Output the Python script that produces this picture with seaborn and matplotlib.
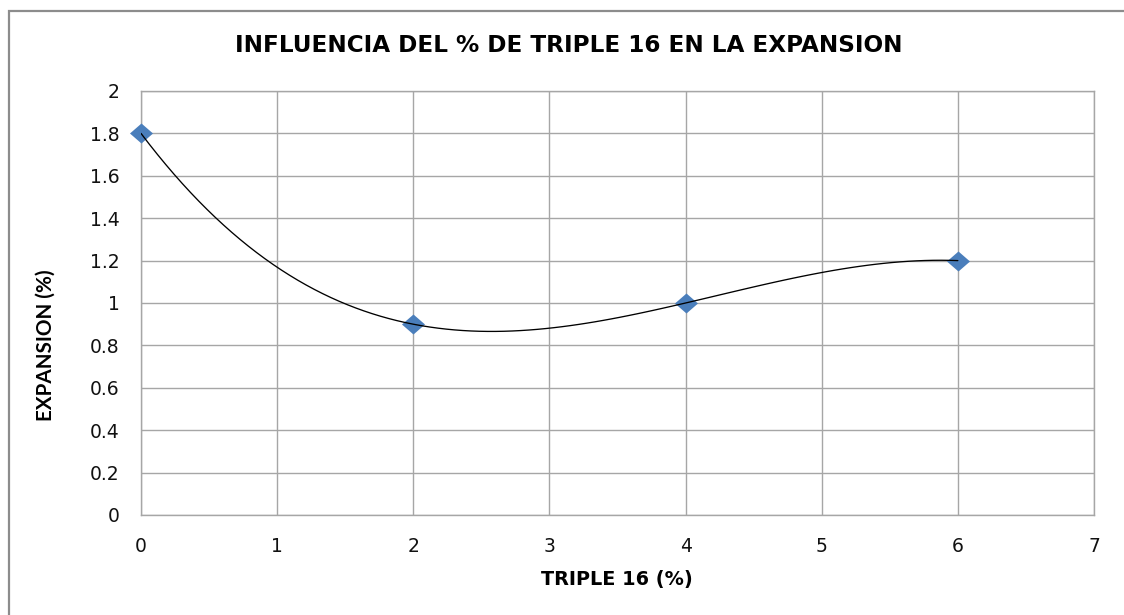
import numpy as np
import pandas as pd
import seaborn as sns
import matplotlib
matplotlib.use("Agg")
import matplotlib.pyplot as plt
from matplotlib.patches import Rectangle
from matplotlib.ticker import FuncFormatter

# valores
triple16 = [0, 2, 4, 6]
expansion = [1.8, 0.9, 1.0, 1.2]

x_ticks = [0, 1, 2, 3, 4, 5, 6, 7]
y_ticks = [0, 0.2, 0.4, 0.6, 0.8, 1.0, 1.2, 1.4, 1.6, 1.8, 2.0]

title = "INFLUENCIA DEL % DE TRIPLE 16 EN LA EXPANSION"
x_label = "TRIPLE 16 (%)"
y_label = "EXPANSION (%)"

df = pd.DataFrame({"triple16": triple16, "expansion": expansion})

sns.set_style("white")
plt.rcParams["font.family"] = ["DejaVu Sans"]
plt.rcParams["text.color"] = "black"

grid_col = "#a6a6a6"
blue = "#4a7ebb"

W, H = 1124, 615
fig = plt.figure(figsize=(W / 100, H / 100), dpi=100)
ax = fig.add_axes([141 / W, 1 - 515 / H, (1094 - 141) / W, (515 - 91) / H])

# rombo un poco mas ancho que alto, como en el original
rombo = [(-1.15, 0), (0, 1), (1.15, 0), (0, -1), (-1.15, 0)]

# puntos
sns.scatterplot(data=df, x="triple16", y="expansion", marker=rombo, s=275,
                color=blue, edgecolor=blue, linewidth=0, zorder=3,
                clip_on=False, ax=ax)
# linea de tendencia polinomica (orden 3)
sns.regplot(data=df, x="triple16", y="expansion", order=3, ci=None,
            scatter=False, truncate=True,
            line_kws={"color": "black", "lw": 0.95, "zorder": 4}, ax=ax)

ax.set_xlim(0, 7)
ax.set_ylim(0, 2)
ax.set_xticks(x_ticks)
ax.set_yticks(y_ticks)
ax.yaxis.set_major_formatter(FuncFormatter(lambda v, p: f"{v:g}"))
ax.grid(True, color=grid_col, lw=1.0)
ax.set_axisbelow(True)
for s in ax.spines.values():
    s.set_color(grid_col)
    s.set_linewidth(1.0)
ax.tick_params(direction="out", length=6.5, width=1.0, color=grid_col,
               labelsize=13.5, pad=9, labelcolor="#111111")
ax.set_xlabel("")
ax.set_ylabel("")

fig.text(569 / W, 1 - 46 / H, title, ha="center", va="center",
         fontsize=16.7, fontweight="bold")
fig.text(617 / W, 1 - 580 / H, x_label, ha="center", va="center",
         fontsize=13.9, fontweight="bold")
fig.text(46 / W, 1 - 345 / H, y_label, ha="center", va="center",
         rotation=90, fontsize=14.9, fontweight="bold", family="Lato")

# marco exterior del grafico
fig.add_artist(Rectangle((9 / W, -0.1), 1.2, 1 - 11 / H + 0.1,
                         transform=fig.transFigure, fill=False,
                         edgecolor="#8c8c8c", lw=1.6))

fig.savefig("out.png", dpi=100)
